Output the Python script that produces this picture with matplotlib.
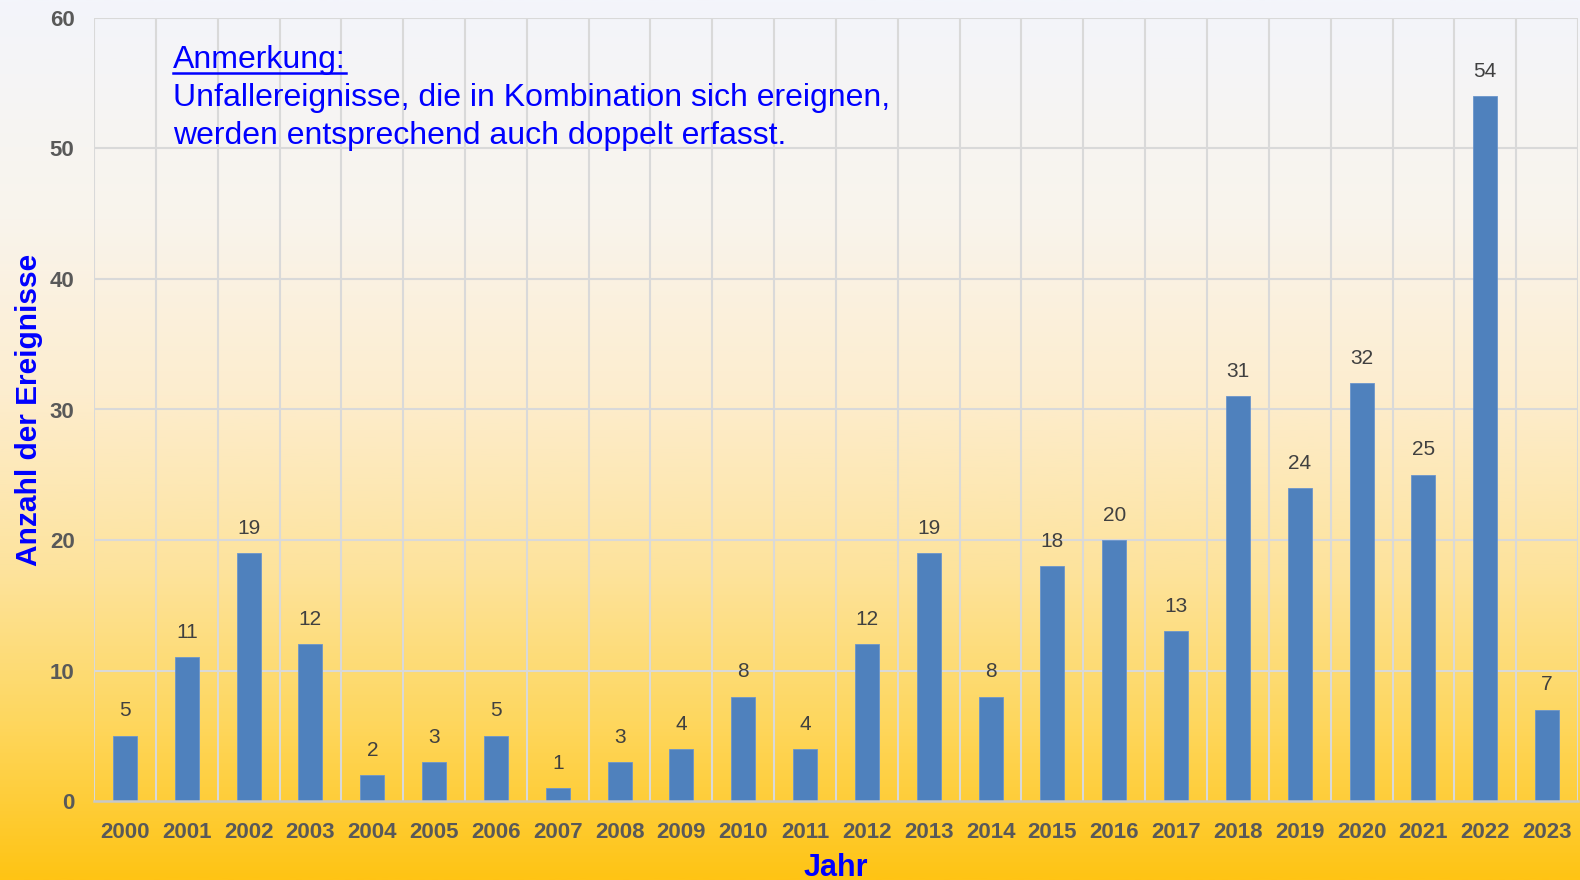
import numpy as np
import matplotlib
matplotlib.use("Agg")
import matplotlib.pyplot as plt
from matplotlib.colors import LinearSegmentedColormap

years = [str(y) for y in range(2000, 2024)]
values = [5, 11, 19, 12, 2, 3, 5, 1, 3, 4, 8, 4, 12, 19, 8, 18, 20, 13, 31, 24, 32, 25, 54, 7]
y_ticks = [0, 10, 20, 30, 40, 50, 60]

plt.rcParams['font.family'] = ['Liberation Sans', 'DejaVu Sans']

W, H = 1580, 880
fig = plt.figure(figsize=(W / 100, H / 100), dpi=100)

# background gradient
bg = fig.add_axes([0, 0, 1, 1], zorder=0)
cmap = LinearSegmentedColormap.from_list(
    "bg",
    [(0.0, "#f3f5fb"), (0.25, "#f9f4ec"), (0.45, "#fdedce"),
     (0.65, "#fde39c"), (0.82, "#fed75f"), (1.0, "#ffc414")])
grad = np.linspace(0, 1, 512).reshape(-1, 1)
bg.imshow(grad, aspect="auto", cmap=cmap, extent=[0, 1, 0, 1], origin="upper")
bg.set_axis_off()

ax = fig.add_axes([94 / W, 1 - 801 / H, (1578 - 94) / W, (801 - 18) / H], zorder=1)
ax.set_facecolor("none")

x = np.arange(len(years))
ax.bar(x, values, width=0.39, color="#4f81bd", edgecolor="#6b95cc", linewidth=0.6, zorder=3)

for xi, v in zip(x, values):
    ax.annotate(str(v), (xi, v), xytext=(0, 11), textcoords="offset points",
                ha="center", va="bottom", fontsize=15, color="#404040", zorder=4)

ax.set_xlim(-0.5, len(years) - 0.5)
ax.set_ylim(0, 60)
ax.set_yticks(y_ticks)
ax.set_yticklabels([str(t) for t in y_ticks], fontsize=16, fontweight="bold", color="#595959")
ax.set_xticks(x)
ax.set_xticklabels(years, fontsize=16, fontweight="bold", color="#595959")
ax.tick_params(axis="both", length=0)
ax.tick_params(axis="x", pad=15)
ax.tick_params(axis="y", pad=14)

# gridlines
for yv in y_ticks[1:]:
    ax.axhline(yv, color="#d9d9d9", lw=1.5, zorder=1)
for b in np.arange(-0.5, len(years), 1.0):
    ax.axvline(b, color="#d9d9d9", lw=1.5, zorder=1)

for s in ["top", "right", "left"]:
    ax.spines[s].set_visible(False)
ax.spines["bottom"].set_color("#c8c8c8")
ax.spines["bottom"].set_linewidth(1.8)
ax.spines["bottom"].set_zorder(5)

ax.set_xlabel("Jahr", fontsize=22, fontweight="bold", color="#0000ff", labelpad=7)
ax.set_ylabel("Anzahl der Ereignisse", fontsize=21.5, fontweight="bold", color="#0000ff", labelpad=5)

t1 = fig.text(173 / W, 1 - 60 / H, "Anmerkung:", fontsize=23, color="#0000ff",
              ha="left", va="center")
fig.text(173 / W, 1 - 98 / H, "Unfallereignisse, die in Kombination sich ereignen,",
         fontsize=23, color="#0000ff", ha="left", va="center")
fig.text(173 / W, 1 - 136 / H, "werden entsprechend auch doppelt erfasst.",
         fontsize=23, color="#0000ff", ha="left", va="center")

# underline under "Anmerkung:"
fig.canvas.draw()
bb = t1.get_window_extent(renderer=fig.canvas.get_renderer())
fig.add_artist(plt.Line2D([bb.x0 / W, bb.x1 / W], [1 - 73 / H, 1 - 73 / H],
                          color="#0000ff", lw=1.8))

fig.savefig("out.png", dpi=100)
